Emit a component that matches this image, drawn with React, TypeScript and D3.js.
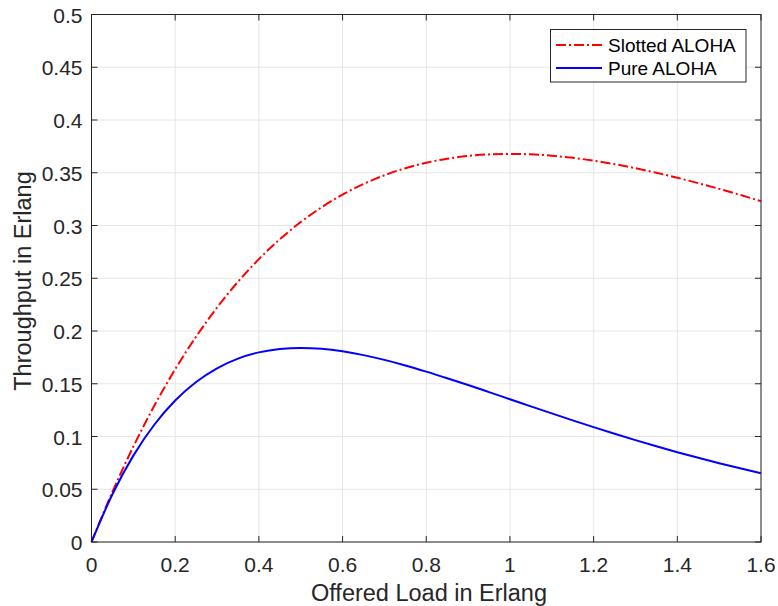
import React from "react";
import * as d3 from "d3";

const loadG = [0, 0.05, 0.1, 0.15, 0.2, 0.25, 0.3, 0.35, 0.4, 0.45, 0.5, 0.55, 0.6, 0.65, 0.7, 0.75, 0.8, 0.85, 0.9, 0.95, 1.0, 1.05, 1.1, 1.15, 1.2, 1.25, 1.3, 1.35, 1.4, 1.45, 1.5, 1.55, 1.6];
const slotted = [0, 0.04756, 0.09048, 0.12911, 0.16375, 0.1947, 0.22225, 0.24664, 0.26813, 0.28693, 0.30327, 0.31732, 0.32929, 0.33933, 0.34761, 0.35428, 0.35946, 0.3633, 0.36591, 0.3674, 0.36788, 0.36744, 0.36616, 0.36413, 0.36143, 0.35813, 0.35429, 0.34997, 0.34524, 0.34013, 0.3347, 0.32898, 0.32304];
const pure = [0, 0.04524, 0.08187, 0.11112, 0.13406, 0.15163, 0.16464, 0.17381, 0.17973, 0.18296, 0.18394, 0.18308, 0.18072, 0.17715, 0.17262, 0.16735, 0.16152, 0.15528, 0.14877, 0.14209, 0.13534, 0.12858, 0.12188, 0.1153, 0.10886, 0.10261, 0.09656, 0.09073, 0.08514, 0.07978, 0.07468, 0.06983, 0.06522];
const xTicks = [0, 0.2, 0.4, 0.6, 0.8, 1, 1.2, 1.4, 1.6];
const yTicks = [0, 0.05, 0.1, 0.15, 0.2, 0.25, 0.3, 0.35, 0.4, 0.45, 0.5];
const seriesNames = ["Slotted ALOHA", "Pure ALOHA"];

const W = 778, H = 606;
const L = 91.5, R = 761, T = 14.5, B = 542;
const font = "'Liberation Sans', Arial, Helvetica, sans-serif";

export default function App() {
  const x = d3.scaleLinear().domain([0, 1.6]).range([L, R]);
  const y = d3.scaleLinear().domain([0, 0.5]).range([B, T]);
  const line = d3.line<number>().x((_, i) => x(loadG[i])).y(d => y(d)).curve(d3.curveMonotoneX);
  const axisColor = "#262626";
  const fmt = (v: number) => String(+v.toFixed(2));
  return (
    <svg width={W} height={H} style={{ position: "absolute", left: 0, top: 0, background: "#fff" }} fontFamily={font}>
      <rect x={0} y={0} width={W} height={H} fill="#fff" />
      {xTicks.map(t => (
        <line key={"gx" + t} x1={x(t)} x2={x(t)} y1={T} y2={B} stroke="#e6e6e6" strokeWidth={1} />
      ))}
      {yTicks.map(t => (
        <line key={"gy" + t} x1={L} x2={R} y1={y(t)} y2={y(t)} stroke="#e6e6e6" strokeWidth={1} />
      ))}
      <path d={line(slotted) || ""} fill="none" stroke="#ff0000" strokeWidth={2} strokeDasharray="10,3,2,3" />
      <path d={line(pure) || ""} fill="none" stroke="#0000ff" strokeWidth={2} />
      <rect x={L} y={T} width={R - L} height={B - T} fill="none" stroke={axisColor} strokeWidth={1} />
      {xTicks.map(t => (
        <g key={"tx" + t}>
          <line x1={x(t)} x2={x(t)} y1={B} y2={B - 6} stroke={axisColor} />
          <line x1={x(t)} x2={x(t)} y1={T} y2={T + 6} stroke={axisColor} />
          <text x={x(t)} y={B + 30} textAnchor="middle" fontSize={21} fill={axisColor}>{fmt(t)}</text>
        </g>
      ))}
      {yTicks.map(t => (
        <g key={"ty" + t}>
          <line x1={L} x2={L + 6} y1={y(t)} y2={y(t)} stroke={axisColor} />
          <line x1={R} x2={R - 6} y1={y(t)} y2={y(t)} stroke={axisColor} />
          <text x={L - 9} y={y(t) + 8} textAnchor="end" fontSize={21} fill={axisColor}>{fmt(t)}</text>
        </g>
      ))}
      <text x={429} y={601} textAnchor="middle" fontSize={23.5} fill={axisColor}>Offered Load in Erlang</text>
      <text transform={`translate(31,281) rotate(-90)`} textAnchor="middle" fontSize={23.5} fill={axisColor}>Throughput in Erlang</text>
      <g>
        <rect x={550.5} y={29.5} width={195.5} height={52.5} fill="#fff" stroke={axisColor} strokeWidth={1} />
        <line x1={556} x2={602} y1={45} y2={45} stroke="#ff0000" strokeWidth={2} strokeDasharray="10,3,2,3" />
        <text x={608} y={51.5} fontSize={19} fill="#000">{seriesNames[0]}</text>
        <line x1={556} x2={602} y1={68} y2={68} stroke="#0000ff" strokeWidth={2} />
        <text x={608} y={74.5} fontSize={19} fill="#000">{seriesNames[1]}</text>
      </g>
    </svg>
  );
}
